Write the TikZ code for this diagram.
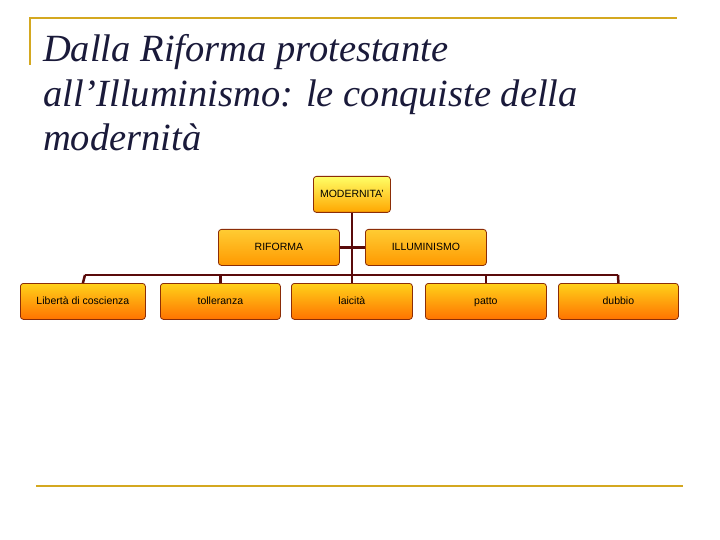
\documentclass[tikz,border=0pt]{standalone}
\usepackage{fontspec}
\setmainfont{Liberation Serif}
\newfontfamily\arial{Liberation Sans}
\definecolor{gold}{HTML}{D4A820}
\definecolor{brn}{HTML}{5A0A0A}
\definecolor{ttl}{HTML}{1A1A3A}
\tikzset{
 bx/.style={draw=brn!70!orange,rounded corners=3pt,line width=0.8pt,minimum height=36pt,inner sep=0pt,text height=8pt,text depth=2pt,font=\arial\fontsize{10.5}{12}\selectfont,anchor=north west},
 topb/.style={bx,top color=yellow!60!white,bottom color=orange!70!yellow},
 midb/.style={bx,top color=yellow!50!orange!80!white,bottom color=orange!80!yellow},
 lowb/.style={bx,top color=orange!40!yellow!90!white,bottom color=orange!90!red},
 ln/.style={draw=brn,line width=2.5pt},
 tt/.style={anchor=base west,text=ttl,font=\fontsize{38.5}{44}\selectfont\itshape,inner sep=0pt},
}
\begin{document}
\begin{tikzpicture}[x=1pt,y=-1pt]
\useasboundingbox (0,0) rectangle (720,540);
\fill[white] (0,0) rectangle (720,540);
\draw[gold,line width=2pt] (30,65) -- (30,18) -- (677,18);
\draw[gold,line width=2pt] (36,486) -- (683,486);
\node[tt] (t1) at (43,62) {Dalla Riforma protestante};
\node[tt] (t2) at (43,107) {all’Illuminismo: le conquiste della};
\node[tt] (t3) at (43,151) {modernità};
\coordinate (hl) at (85,275); \coordinate (hr) at (618,275);
\node[topb,minimum width=77pt] (m) at (313,176) {MODERNITA’};
\node[midb,minimum width=121pt] (r) at (218,229) {RIFORMA};
\node[midb,minimum width=121pt] (i) at (365,229) {ILLUMINISMO};
\node[lowb,minimum width=125pt] (b1) at (20,283) {Libertà di coscienza};
\node[lowb,minimum width=120pt] (b2) at (160,283) {tolleranza};
\node[lowb,minimum width=121pt] (b3) at (291,283) {laicità};
\node[lowb,minimum width=121pt] (b4) at (425,283) {patto};
\node[lowb,minimum width=120pt] (b5) at (558,283) {dubbio};
\draw[ln] (m.south) -- (b3.north);
\draw[ln] (r.east) -- (i.west);
\draw[ln] (hl) -- (hr);
\draw[ln] (hl) -- (b1.north);
\draw[ln] (b2.north) -- (b2.north|-hl);
\draw[ln] (b4.north) -- (b4.north|-hl);
\draw[ln] (hr) -- (b5.north);
\end{tikzpicture}
\end{document}
